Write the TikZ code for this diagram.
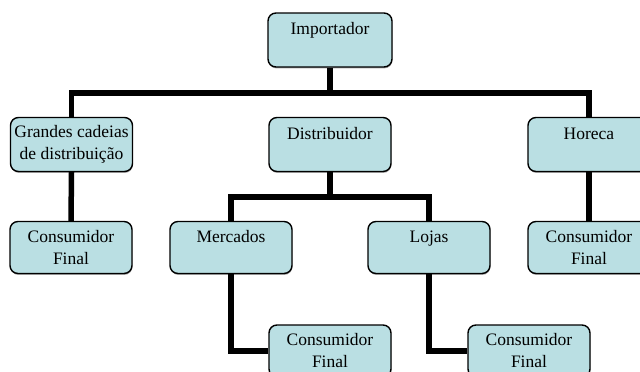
\documentclass[tikz,border=0pt]{standalone}
\usepackage{fontspec}
\setmainfont{Liberation Serif}
\usetikzlibrary{shadows,backgrounds}
\definecolor{boxfill}{HTML}{BADFE3}
\tikzset{
  orgbox/.style={draw=black, line width=1.4pt, fill=boxfill, rounded corners=8pt,
    minimum width=122pt, minimum height=54pt, inner sep=1pt, align=center,
    font=\fontsize{17.5}{22}\selectfont,
    drop shadow={shadow xshift=0.4pt, shadow yshift=-1.4pt, fill=black, opacity=0.35}},
  lowbox/.style={orgbox, minimum height=52pt},
  conn/.style={draw=black, line width=5.5pt, line join=miter}
}
\begin{document}
\begin{tikzpicture}[x=1pt,y=-1pt]
\useasboundingbox (0,0) rectangle (640,372);
\clip (0,0) rectangle (640,372);
\node[orgbox, minimum width=124pt] (imp) at (330,40) {Importador\\\phantom{Final}};
\node[orgbox] (grandes) at (71.5,144.5) {Grandes cadeias\\de distribuição};
\node[orgbox] (dist) at (330,144.5) {Distribuidor\\\phantom{Final}};
\node[orgbox] (horeca) at (589,144.5) {Horeca\\\phantom{Final}};
\node[lowbox] (consA) at (71,247.5) {Consumidor\\Final};
\node[lowbox] (merc) at (231,247.5) {Mercados\\\phantom{Final}};
\node[lowbox] (lojas) at (429,247.5) {Lojas\\\phantom{Final}};
\node[lowbox] (consD) at (589,247.5) {Consumidor\\Final};
\node[lowbox] (consB) at (330,351) {Consumidor\\Final};
\node[lowbox] (consC) at (529,351) {Consumidor\\Final};
\coordinate (bus1) at (330,93);
\coordinate (bus2) at (330,197);
\begin{scope}[on background layer]
\draw[conn] (imp.south) -- (bus1);
\draw[conn] (grandes.north) |- (bus1) -| (horeca.north);
\draw[conn] (dist.south) -- (bus2);
\draw[conn] (merc.north) |- (bus2) -| (lojas.north);
\draw[conn] (grandes.south) -- (consA.north);
\draw[conn] (horeca.south) -- (consD.north);
\draw[conn] (merc.south) |- (consB.west);
\draw[conn] (lojas.south) |- (consC.west);
\end{scope}
\end{tikzpicture}
\end{document}
